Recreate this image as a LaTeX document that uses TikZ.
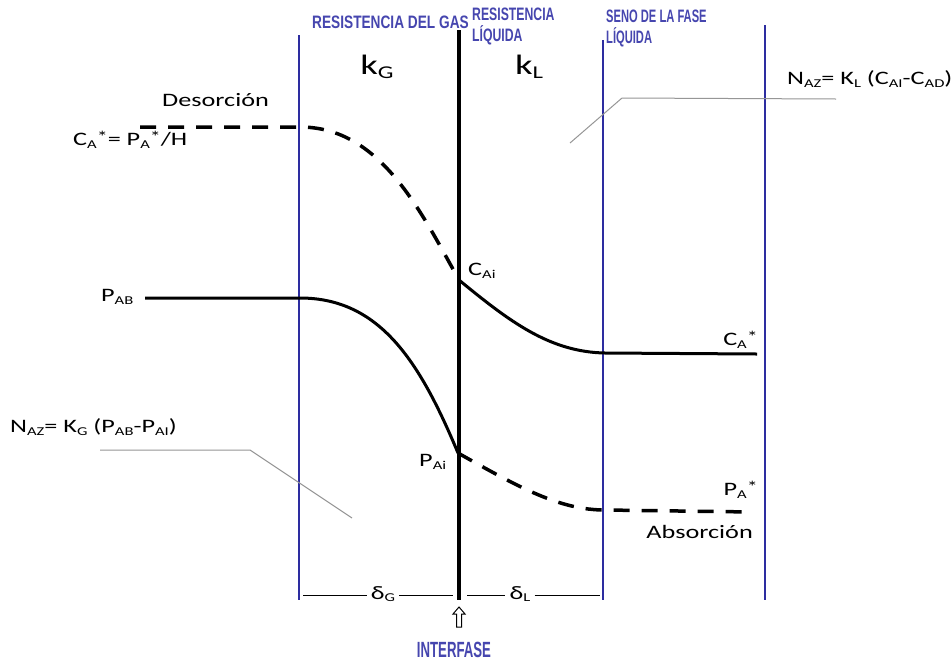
\documentclass[tikz,border=0pt]{standalone}
\usepackage{graphicx}
\usepackage{fontspec}
\setmainfont{Carlito}
\newfontfamily\narrowf{Liberation Sans}
\definecolor{lineblue}{RGB}{45,45,160}
\definecolor{labblue}{RGB}{70,70,175}
\definecolor{leadgray}{RGB}{150,150,150}
\newcommand{\widetxt}[1]{\scalebox{1.38}[1]{#1}}
\newcommand{\sbs}[1]{\raisebox{-0.3ex}{\fontsize{12}{12}\selectfont #1}}
\newcommand{\sps}[1]{\raisebox{0.35ex}{\fontsize{16}{16}\selectfont #1}}
\newcommand{\narrowtxt}[2]{\scalebox{#1}[1]{\narrowf\bfseries\fontsize{18}{20}\selectfont #2}}
\tikzset{
  lab/.style={inner sep=0pt, font=\fontsize{19}{21}\selectfont},
  klab/.style={inner sep=0pt, font=\fontsize{28}{30}\selectfont},
  toplab/.style={inner sep=0pt, text=labblue, align=left, font=\fontsize{18}{21}\selectfont},
  blueline/.style={draw=lineblue, line width=1.4pt},
  interline/.style={draw=black, line width=4pt},
  curve/.style={draw=black, line width=3pt},
  dashcurve/.style={draw=black, line width=3.5pt, dash pattern=on 16pt off 12pt},
  leader/.style={draw=leadgray, line width=1pt},
  dimline/.style={draw=black, line width=1pt}
}
\begin{document}
\begin{tikzpicture}[x=1pt,y=-1pt]
\useasboundingbox[fill=white] (0,0) rectangle (952,662);
% vertical lines
\coordinate (b1t) at (299,35); \coordinate (b1b) at (299,600);
\coordinate (it) at (459,30); \coordinate (ib) at (459,600);
\coordinate (b2t) at (603,40); \coordinate (b2b) at (603,600);
\coordinate (b3t) at (765,25); \coordinate (b3b) at (765,600);
\draw[blueline] (b1t) -- (b1b);
\draw[blueline] (b2t) -- (b2b);
\draw[blueline] (b3t) -- (b3b);
\draw[interline] (it) -- (ib);
% top labels
\node[toplab, anchor=west] (rgas) at (312,22) {\narrowtxt{0.76}{RESISTENCIA DEL GAS}};
\node[toplab, anchor=west] (rliq) at (472,26) {\narrowtxt{0.68}{RESISTENCIA}\\\narrowtxt{0.68}{LÍQUIDA}};
\node[toplab, anchor=west] (seno) at (606,28) {\narrowtxt{0.62}{SENO DE LA FASE}\\\narrowtxt{0.62}{LÍQUIDA}};
\node[klab] (kg) at (377,67) {\widetxt{k\raisebox{-0.3ex}{\fontsize{18}{18}\selectfont G}}};
\node[klab] (kl) at (529,67) {\widetxt{k\raisebox{-0.3ex}{\fontsize{18}{18}\selectfont L}}};
% upper dashed curve (desorcion)
\coordinate (d0) at (140,127); \coordinate (d1) at (300,127);
\coordinate (cai) at (459,280);
\draw[dashcurve] (d0) -- (d1) .. controls (380,127) and (420,210) .. (cai);
\node[lab, anchor=west] (desor) at (162,100) {\widetxt{Desorción}};
\node[lab, anchor=west] (castar) at (73,140) {\widetxt{C\sbs{A}\sps{*}= P\sbs{A}\sps{*}/H}};
% C_Ai solid curve
\coordinate (c1) at (605,353); \coordinate (c2) at (757,354);
\draw[curve] (cai) .. controls (510,322) and (550,352) .. (c1) -- (c2);
\node[lab, anchor=west] (caiL) at (468,271) {\widetxt{C\sbs{Ai}}};
\node[lab, anchor=east] (castR) at (758,340) {\widetxt{C\sbs{A}\sps{*}}};
% P_AB solid curve
\coordinate (p0) at (145,298); \coordinate (p1) at (300,298);
\coordinate (pai) at (458,453);
\draw[curve] (p0) -- (p1) .. controls (380,298) and (420,362) .. (pai);
\node[lab, anchor=west] (pab) at (101,297) {\widetxt{P\sbs{AB}}};
\node[lab, anchor=west] (paiL) at (419,462) {\widetxt{P\sbs{Ai}}};
% lower dashed curve (absorcion)
\coordinate (q1) at (605,510); \coordinate (q2) at (753,512);
\draw[dashcurve] (pai) .. controls (520,488) and (560,510) .. (q1) -- (q2);
\node[lab, anchor=east] (pastar) at (758,490) {\widetxt{P\sbs{A}\sps{*}}};
\node[lab, anchor=east] (absor) at (753,532) {\widetxt{Absorción}};
% flux labels and leaders
\node[lab, anchor=west] (nkg) at (10,427) {\widetxt{N\sbs{AZ}= K\sbs{G} (P\sbs{AB}-P\sbs{AI})}};
\coordinate (g1) at (100,450); \coordinate (g2) at (250,450); \coordinate (g3) at (352,518);
\draw[leader] (g1) -- (g2) -- (g3);
\node[lab, anchor=west] (nkl) at (787,79) {\widetxt{N\sbs{AZ}= K\sbs{L} (C\sbs{AI}-C\sbs{AD})}};
\coordinate (h1) at (570,143); \coordinate (h2) at (622,98); \coordinate (h3) at (836,99);
\draw[leader] (h1) -- (h2) -- (h3);
% bottom dimension line
\node[lab] (dg) at (383,594) {\widetxt{δ\sbs{G}}};
\node[lab] (dl) at (520,594) {\widetxt{δ\sbs{L}}};
\coordinate (e1) at (303,595); \coordinate (e2) at (453,595);
\coordinate (e3) at (467,595); \coordinate (e4) at (600,595);
\draw[dimline] (e1) -- ([xshift=-4pt]dg.west|-e1);
\draw[dimline] ([xshift=4pt]dg.east|-e1) -- (e2);
\draw[dimline] (e3) -- ([xshift=-4pt]dl.west|-e3);
\draw[dimline] ([xshift=4pt]dl.east|-e3) -- (e4);
% interfase arrow
\coordinate (ar) at (459,607);
\draw[black, line width=1pt] (ar) -- ++(-6,7) -- ++(3.5,0) -- ++(0,13) -- ++(5,0) -- ++(0,-13) -- ++(3.5,0) -- cycle;
\node[toplab] (interf) at (454,650) {\scalebox{0.6}[1]{\narrowf\bfseries\fontsize{22}{24}\selectfont INTERFASE}};
\end{tikzpicture}
\end{document}
